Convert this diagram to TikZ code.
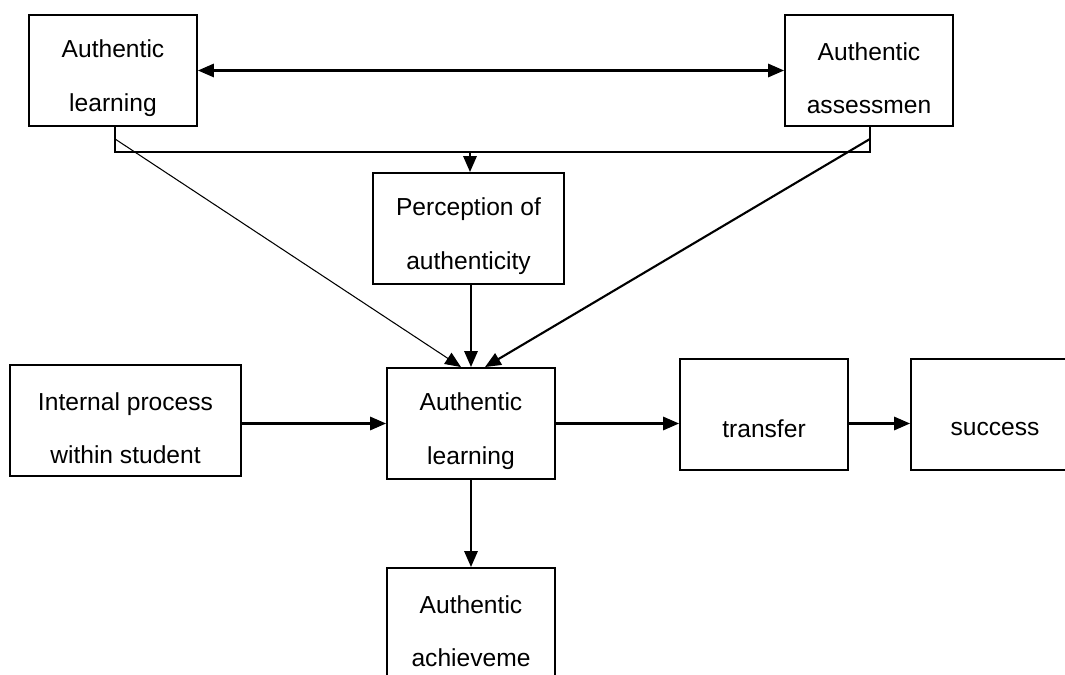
\documentclass[tikz,border=0pt]{standalone}
\usepackage{fontspec}
\setmainfont{Liberation Sans}
\usetikzlibrary{arrows.meta}

\begin{document}
\begin{tikzpicture}[x=0.02cm, y=-0.02cm,
    box/.style={draw, line width=1.1pt, minimum width=3.36cm, minimum height=2.22cm,
      inner sep=0pt},
    txt/.style={align=center, inner sep=0pt, yshift=-4.5pt,
      font=\fontsize{14}{30.5}\selectfont},
    onetxt/.style={txt, yshift=-3.5pt},
    arr/.style={line width=1.2pt, -{Triangle[length=9pt, width=7.5pt]}},
    thin arr/.style={line width=0.6pt, -{Triangle[length=9pt, width=7.5pt]}}]
  \clip (0,0) rectangle (1065,675);
  \fill[white] (0,0) rectangle (1065,675);

  % boxes
  \node[box, label={[txt]center:Authentic\\learning}] (al) at (113,70.5) {};
  \node[box, label={[txt]center:Authentic\\assessmen}] (aa) at (869,70.5) {};
  \node[box, minimum width=3.82cm, label={[txt]center:Perception of\\authenticity}] (pa) at (468.5,228.5) {};
  \node[box, label={[txt]center:Authentic\\learning}] (lrn) at (471,423.5) {};
  \node[box, minimum width=4.62cm, label={[txt]center:Internal process\\within student}] (ips) at (125.5,420.5) {};
  \node[box, label={[onetxt]center:transfer}] (trf) at (764,414.5) {};
  \node[box, label={[onetxt]center:success}] (suc) at (995,414.5) {};
  \node[box, label={[txt]center:Authentic\\achieveme}] (ach) at (471,623.5) {};

  % top links
  \draw[line width=1.2pt, {Triangle[length=9pt, width=7.5pt]}-{Triangle[length=9pt, width=7.5pt]}] (al) -- (aa);
  \draw[line width=1.1pt] ([xshift=0.04cm]al.south) -- ++(0,25) -| ([xshift=0.02cm]aa.south);
  \coordinate (brk) at (470,151);
  \draw[arr] (brk) -- (brk |- pa.north);

  % into authentic learning
  \draw[thin arr] ([xshift=0.04cm, yshift=-0.24cm]al.south) -- ([xshift=-0.2cm]lrn.north);
  \draw[arr] (pa.south -| lrn.north) -- (lrn.north);
  \draw[arr] ([xshift=0.02cm, yshift=-0.24cm]aa.south) -- ([xshift=0.28cm]lrn.north);
  \draw[arr] (ips.east |- lrn.east) -- (lrn.west);

  % out of authentic learning
  \draw[arr] (lrn.east) -- (lrn.east -| trf.west);
  \draw[arr] (trf.east |- lrn.east) -- (suc.west |- lrn.east);
  \draw[arr] (lrn) -- (ach);
\end{tikzpicture}
\end{document}
